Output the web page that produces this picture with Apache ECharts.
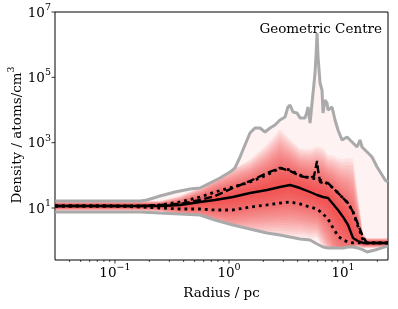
<!DOCTYPE html>
<html><head><meta charset="utf-8">
<script src="https://cdn.jsdelivr.net/npm/echarts@6/dist/echarts.min.js"></script>
<style>html,body{margin:0;padding:0;background:#fff}#c{width:398px;height:309px}</style>
</head><body><div id="c"></div>
<script>
// ---- data ----
const radius = [0.03,0.0493,0.0904,0.166,0.248,0.372,0.557,0.753,1.084,1.528,2.155,2.80,3.43,4.20,5.14,5.92,6.68,7.39,8.17,9.04,10.0,11.07,12.24,13.5,14.97,16.24,19.1,24.8];
const medianDensity = [11.5,11.5,11.5,11.5,11.5,12.4,15.3,17.6,21.7,28.8,35.6,43.9,50.6,40.9,30.9,25.0,21.7,20.2,13.3,8.69,5.31,3.02,1.21,0.977,0.85,0.85,0.85,0.85];
const lowerDensity = [11.5,11.5,11.5,10.7,10.0,9.32,9.32,8.69,8.69,10.7,12.4,14.2,15.3,13.3,10.7,9.32,6.55,4.60,2.44,1.39,1.05,0.91,0.85,0.85,0.85,0.85,0.85,0.85];
const upperDensity = [11.5,11.5,11.5,11.5,12.4,15.3,21.7,30.9,43.9,62.5,102,168,146,102,82.8,77.3,67,54.3,40.9,28.8,20.2,14.2,7.55,2.81,1.05,0.85,0.85,0.85];
const minDensity = [7.55,7.55,7.55,7.55,7.03,6.55,6.11,4.30,3.02,2.28,1.72,1.49,1.29,1.12,1.05,0.79,0.64,0.60,0.60,0.60,0.60,0.64,0.64,0.60,0.52,0.45,0.52,0.69];
const meanRadius = [0.03,0.0493,0.0904,0.166,0.248,0.372,0.557,0.753,1.084,1.528,2.155,2.80,3.43,4.20,5.14,5.57,5.80,5.92,6.04,6.29,6.68,7.39,8.17,9.04,10.0,11.07,12.24,13.5,14.97,16.24,19.1,24.8];
const meanDensity = [11.5,11.5,11.5,11.5,12.4,13.3,17.6,23.3,40.9,67,118,168,136,95.5,82.8,95.5,193,275,146,62.5,58.2,58.2,40.9,28.8,20.2,14.2,7.55,3.24,1.29,0.85,0.85,0.85];
const maxRadius = [0.03,0.0738,0.166,0.191,0.248,0.336,0.455,0.557,0.681,0.834,1.02,1.129,1.249,1.381,1.528,1.69,1.87,2.07,2.29,2.53,2.80,3.10,3.29,3.43,3.64,3.95,4.20,4.64,4.83,4.93,5.14,5.35,5.46,5.68,5.80,5.92,6.04,6.29,6.54,6.68,6.95,7.24,7.39,8.01,8.51,9.04,9.80,10.84,11.51,12.24,13.27,14.09,14.68,15.6,16.6,17.96,19.9,22.0,23.4,24.8];
const maxDensity = [16.4,16.4,16.4,17.6,23.3,30.9,38.2,40.9,58.2,82.8,126,168,364,848,1980,2810,2810,2120,2810,3470,4940,6100,12350,14200,8670,8090,5690,5690,8670,12350,4000,16400,33100,135500,482000,2276000,419000,67000,40900,8090,20200,16400,10000,12350,4940,2440,1205,1490,1205,977,736,1205,736,595,482,364,180,102,72,62.5];
const xMajorExps = [-1, 0, 1];
const xMinorTicks = [0.04,0.05,0.06,0.07,0.08,0.09,0.2,0.3,0.4,0.5,0.6,0.7,0.8,0.9,2,3,4,5,6,7,8,9,20];
const yMajorExps = [1, 3, 5, 7];
const xRange = [0.0298, 24.8];
const yRange = [0.256, 1e7];
const annotation = 'Geometric Centre';
const xTitle = 'Radius / pc';

// ---- styling ----
const FONT = 'DejaVu Serif';
const FS = 13.5, FS_SUP = 9.5;
const N_LAYERS = 18;
const pairs = (xs, ys) => xs.map((x, i) => [x, ys[i]]);
const ctx = document.createElement('canvas').getContext('2d');
function tw(text, fs){ ctx.font = fs + 'px "' + FONT + '"'; return ctx.measureText(text).width; }
function expText(n){ return n < 0 ? '\u2212' + (-n) : String(n); }

function renderBands(params, api) {
  const P = (r, d) => api.coord([r, d]);
  const maxPts = maxRadius.map((r, i) => P(r, maxDensity[i]));
  const maxYAt = x => {
    for (let i = 1; i < maxPts.length; i++) {
      if (x <= maxPts[i][0]) {
        const a = maxPts[i-1], b = maxPts[i];
        const f = (x - a[0]) / ((b[0] - a[0]) || 1);
        return a[1] + f * (b[1] - a[1]);
      }
    }
    return maxPts[maxPts.length-1][1];
  };
  const med = radius.map((r, i) => P(r, medianDensity[i]));
  const hi = radius.map((r, i) => P(r, upperDensity[i]));
  const lo = radius.map((r, i) => P(r, lowerDensity[i]));
  const mn = radius.map((r, i) => P(r, minDensity[i]));
  const children = [{type:'polygon', shape:{points: maxPts.concat(mn.slice().reverse())}, style:{fill:'rgba(245,80,80,0.075)'}}];
  for (let k = 0; k < N_LAYERS; k++) {
    const s = 1 - k / N_LAYERS;          // 1 = outermost layer
    const t = 0.15 + 2.9 * s;
    const w = 0.5 + 4.5 * s;
    const up = [], dn = [];
    for (let i = 0; i < med.length; i++) {
      const x = med[i][0], ym = med[i][1];
      let yu = ym - Math.max(t * (ym - hi[i][1]), w);
      yu = Math.max(yu, maxYAt(x));
      let yl = ym + Math.max(t * (lo[i][1] - ym), w);
      yl = Math.min(yl, mn[i][1]);
      up.push([x, yu]); dn.push([x, yl]);
    }
    children.push({type:'polygon', shape:{points: up.concat(dn.reverse())}, style:{fill:'rgba(238,38,38,0.075)'}});
  }
  return {type:'group', children};
}

function renderAxes(params, api) {
  const left = api.coord([xRange[0], 10])[0];
  const bottom = api.coord([1, yRange[0]])[1];
  const ch = [];
  const txt = (x, y, s, fs, align) => ({type:'text', x, y, style:{text:s, fontSize:fs, fontFamily:FONT, fill:'#000', align, verticalAlign:'middle'}});
  xMinorTicks.forEach(v => {
    const x = api.coord([v, 10])[0];
    ch.push({type:'line', shape:{x1:x, y1:bottom, x2:x, y2:bottom+2}, style:{stroke:'#000', lineWidth:0.7}});
  });
  xMajorExps.forEach(e => {
    const x = api.coord([Math.pow(10, e), 10])[0];
    ch.push({type:'line', shape:{x1:x, y1:bottom, x2:x, y2:bottom+3.5}, style:{stroke:'#000', lineWidth:0.8}});
    const es = expText(e);
    const w1 = tw('10', FS), w2 = tw(es, FS_SUP);
    const x0 = x - (w1 + w2) / 2;
    ch.push(txt(x0, bottom + 13, '10', FS, 'left'));
    ch.push(txt(x0 + w1, bottom + 7.5, es, FS_SUP, 'left'));
  });
  yMajorExps.forEach(e => {
    const y = api.coord([1, Math.pow(10, e)])[1];
    ch.push({type:'line', shape:{x1:left-3.5, y1:y, x2:left, y2:y}, style:{stroke:'#000', lineWidth:0.8}});
    const es = expText(e);
    const w2 = tw(es, FS_SUP);
    const xr = left - 4;
    ch.push(txt(xr, y - 4.4, es, FS_SUP, 'right'));
    ch.push(txt(xr - w2, y + 1, '10', FS, 'right'));
  });
  return {type:'group', children: ch};
}

const chart = echarts.init(document.getElementById('c'), null, {renderer:'canvas'});
chart.setOption({
  animation: false,
  backgroundColor: '#fff',
  grid: {left:55, right:10, top:12, bottom:49, show:true, borderColor:'#000', borderWidth:1, backgroundColor:'transparent'},
  xAxis: {type:'log', logBase:10, min:xRange[0], max:xRange[1], axisLine:{show:false}, axisTick:{show:false}, axisLabel:{show:false}, splitLine:{show:false}},
  yAxis: {type:'log', logBase:10, min:yRange[0], max:yRange[1], axisLine:{show:false}, axisTick:{show:false}, axisLabel:{show:false}, splitLine:{show:false}},
  graphic: [
    {type:'text', x:382, y:29.5, style:{text:annotation, fontSize:FS, fontFamily:FONT, fill:'#000', align:'right', verticalAlign:'middle'}},
    {type:'text', x:221.5, y:293, style:{text:xTitle, fontSize:FS, fontFamily:FONT, fill:'#000', align:'center', verticalAlign:'middle'}},
    {type:'text', x:15.5, y:135, rotation:Math.PI/2, style:{
      text:'{b|Density / atoms/cm}{s|3}', align:'center', verticalAlign:'middle', fill:'#000',
      rich:{b:{fontSize:FS, fontFamily:FONT, lineHeight:14, padding:[4,0,0,0]}, s:{fontSize:FS_SUP, fontFamily:FONT, lineHeight:10, padding:[0,0,8,0]}}}}
  ],
  series: [
    {type:'custom', coordinateSystem:'cartesian2d', data:[[1,10]], renderItem:renderBands, silent:true, z:1},
    {type:'line', data:pairs(maxRadius, maxDensity), showSymbol:false, lineStyle:{color:'#aaaaaa', width:3}, z:2, silent:true},
    {type:'line', data:pairs(radius, minDensity), showSymbol:false, lineStyle:{color:'#aaaaaa', width:3}, z:2, silent:true},
    {type:'line', data:pairs(radius, lowerDensity), showSymbol:false, lineStyle:{color:'#000', width:2.8, type:[2.8,4]}, z:3, silent:true},
    {type:'line', data:pairs(radius, upperDensity), showSymbol:false, lineStyle:{color:'#000', width:2.8, type:[2.8,4]}, z:3, silent:true},
    {type:'line', data:pairs(meanRadius, meanDensity), showSymbol:false, lineStyle:{color:'#000', width:2.4, type:[8,3.5]}, z:3, silent:true},
    {type:'line', data:pairs(radius, medianDensity), showSymbol:false, lineStyle:{color:'#000', width:2.4}, z:3, silent:true},
    {type:'custom', coordinateSystem:'cartesian2d', data:[[1,10]], renderItem:renderAxes, silent:true, z:5, clip:false}
  ]
});
</script></body></html>
